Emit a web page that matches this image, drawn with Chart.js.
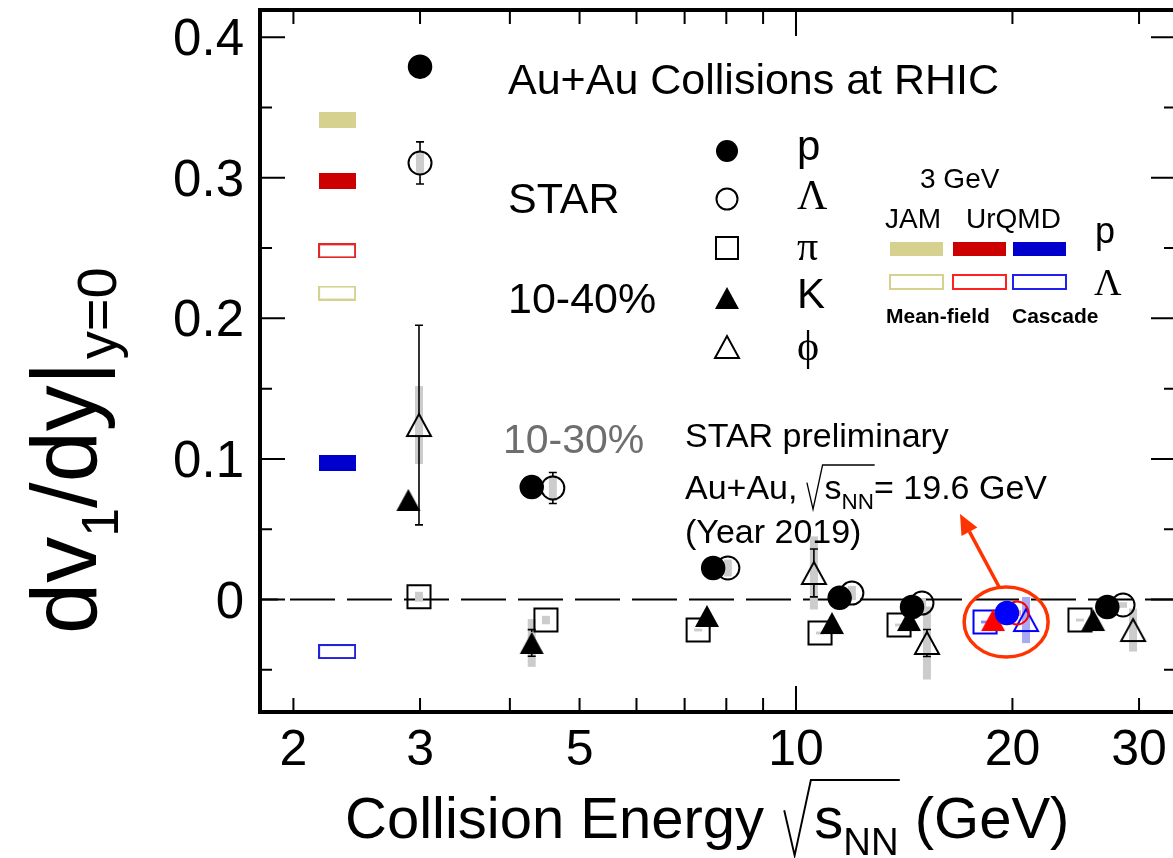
<!DOCTYPE html>
<html>
<head>
<meta charset="utf-8">
<title>dv1/dy vs collision energy</title>
<script src="https://cdn.jsdelivr.net/npm/chart.js@4.4.1/dist/chart.umd.min.js"></script>
<style>
  html, body { margin: 0; padding: 0; background: #fff; overflow: hidden; }
  #box { width: 1173px; height: 858px; overflow: hidden; }
  canvas { display: block; }
</style>
</head>
<body>
<div id="box"><canvas id="my-chart" width="1180" height="858"></canvas></div>
<script>
// STAR dv1/dy at mid-rapidity vs beam energy, Au+Au
// points of one energy are staggered a little in x so they don't sit on top of each other

const protonE    = [3.0, 4.29, 7.67, 11.5, 14.5, 19.65, 27.1];
const protonV1   = [0.379, 0.080, 0.0224, 0.0012, -0.0053, -0.0096, -0.0053];
const protonStat = [0, 0, 0, 0, 0, 0, 0];
const protonSys  = [0, 0, 0, 0, 0, 0, 0];

const lambdaE    = [3.0, 4.59, 8.04, 11.96, 14.97, 20.3, 28.5];
const lambdaV1   = [0.3105, 0.0793, 0.0224, 0.0046, -0.0025, -0.0096, -0.0039];
const lambdaStat = [0.015, 0.011, 0, 0, 0, 0, 0];
const lambdaSys  = [0.008, 0.009, 0.006, 0.005, 0.0035, 0.002, 0.002];

const pionE    = [2.99, 4.49, 7.31, 10.8, 13.91, 18.32, 24.83];
const pionV1   = [0.002, -0.0146, -0.0217, -0.0238, -0.0181, -0.016, -0.0146];
const pionStat = [0, 0, 0, 0, 0, 0, 0];
const pionSys  = [0.0035, 0.003, 0.001, 0.001, 0.001, 0.001, 0.001];

const kaonE    = [2.89, 4.29, 7.52, 11.22, 14.36, 18.8, 25.9];
const kaonV1   = [0.0708, -0.0309, -0.0117, -0.0167, -0.0146, -0.0146, -0.0146];
const kaonStat = [0, 0.0095, 0, 0, 0, 0, 0];
const kaonSys  = [0, 0.017, 0, 0, 0, 0, 0];

const phiE    = [2.99, 10.59, 15.21, 20.89, 29.43];
const phiV1   = [0.1241, 0.0189, -0.0309, -0.0146, -0.0217];
const phiStat = [0.071, 0.017, 0.0096, 0, 0.004];
const phiSys  = [0.0277, 0.026, 0.026, 0.0164, 0.0153];

// 3 GeV model values, drawn as bars left of the data
const modelE  = 2.3;
const modelNames = ['JAM p', 'UrQMD mean-field p', 'UrQMD mean-field Λ', 'JAM Λ', 'UrQMD cascade p', 'UrQMD cascade Λ'];
const modelV1 = [0.341, 0.298, 0.248, 0.218, 0.097, -0.037];

const xTicks  = [2, 3, 4, 5, 6, 7, 8, 9, 10, 20, 30];
const xLabels = [2, 3, 5, 10, 20, 30];
const yTicks  = [-0.05, 0, 0.05, 0.1, 0.15, 0.2, 0.25, 0.3, 0.35, 0.4];
const yLabels = [0, 0.1, 0.2, 0.3, 0.4];

const SANS = '"Liberation Sans", Arial, Helvetica, sans-serif';
const SERIF = '"Liberation Serif", "Times New Roman", serif';
const TAN = '#d6d18e', RED = '#cc0000', BLUE = '#0000cc';
const HL_BLUE = '#0000ff', HL_RED = '#ff0000', ORANGE = '#ff3300';
const SYS_GREY = '#cccccc';

function triangleImage(w, h, color, filled) {
  const c = document.createElement('canvas');
  c.width = w + 8; c.height = h + 8;
  const g = c.getContext('2d');
  g.beginPath();
  g.moveTo(4, h + 4); g.lineTo(w + 4, h + 4); g.lineTo(w / 2 + 4, 4); g.closePath();
  if (filled) { g.fillStyle = color; g.fill(); }
  else { g.lineWidth = 2; g.strokeStyle = color; g.stroke(); }
  return c;
}

function boxImage(w, h, color, filled) {
  const c = document.createElement('canvas');
  c.width = w; c.height = h;
  const g = c.getContext('2d');
  if (filled) { g.fillStyle = color; g.fillRect(0, 0, w, h); }
  else { g.strokeStyle = color; g.lineWidth = 2; g.strokeRect(1, 1, w - 2, h - 2); }
  return c;
}

const triBlackFill = triangleImage(24, 22, '#000', true);
const triRedFill   = triangleImage(24, 22, HL_RED, true);
const triBlackOpen = triangleImage(24, 22, '#000', false);
const triBlueOpen  = triangleImage(24, 22, HL_BLUE, false);

const modelBoxes = [
  boxImage(37, 16, TAN, true), boxImage(37, 16, RED, true), boxImage(38, 15, '#e02828', false),
  boxImage(38, 15, TAN, false), boxImage(37, 16, BLUE, true), boxImage(38, 15, '#2222dd', false)
];

// the 2019 19.6 GeV point is coloured in every species
const hl = { p: 5, lambda: 5, pi: 5, k: 5, phi: 3 };
const pick = (n, idx, a, b) => Array.from({ length: n }, (_, i) => i === idx ? a : b);
const xy = (e, v) => e.map((x, i) => ({ x, y: v[i] }));

const series = [
  { e: protonE, v: protonV1, stat: protonStat, sys: protonSys, hl: hl.p, color: HL_BLUE, band: '#9999ff', gap: 12 },
  { e: lambdaE, v: lambdaV1, stat: lambdaStat, sys: lambdaSys, hl: hl.lambda, color: HL_RED, band: '#f0a0a0', gap: 12 },
  { e: pionE, v: pionV1, stat: pionStat, sys: pionSys, hl: hl.pi, color: HL_BLUE, band: '#8888ff', gap: 12 },
  { e: kaonE, v: kaonV1, stat: kaonStat, sys: kaonSys, hl: hl.k, color: HL_RED, band: '#f0a0a0', gap: 11 },
  { e: phiE, v: phiV1, stat: phiStat, sys: phiSys, hl: hl.phi, color: HL_BLUE, band: '#aaaaf4', gap: 11 }
];

function txt(ctx, s, x, yb, size, o = {}) {
  ctx.font = (o.bold ? 'bold ' : '') + size + 'px ' + (o.serif ? SERIF : SANS);
  ctx.fillStyle = o.color || '#000';
  ctx.textAlign = o.align || 'left';
  ctx.textBaseline = 'alphabetic';
  ctx.fillText(s, x, yb);
  return x + ctx.measureText(s).width;
}

// radical over s with NN subscript, returns the x where it ends
function rootS(ctx, x, yb, size) {
  const xs = x + size * 0.52;
  let end = txt(ctx, 's', xs, yb, size);
  end = txt(ctx, 'NN', end, yb + size * 0.3, size * 0.66);
  ctx.save();
  ctx.strokeStyle = '#000';
  ctx.lineWidth = Math.max(1.3, size / 30);
  ctx.beginPath();
  ctx.moveTo(x, yb - size * 0.48);
  ctx.lineTo(x + size * 0.18, yb + size * 0.3);
  ctx.lineTo(x + size * 0.46, yb - size * 1.0);
  ctx.lineTo(end + size * 0.02, yb - size * 1.0);
  ctx.stroke();
  ctx.restore();
  return end;
}

function marker(ctx, kind, x, y) {
  ctx.save();
  ctx.strokeStyle = '#000'; ctx.fillStyle = '#000'; ctx.lineWidth = 2;
  if (kind === 'circleFill') { ctx.beginPath(); ctx.arc(x, y, 11, 0, Math.PI * 2); ctx.fill(); }
  if (kind === 'circleOpen') { ctx.beginPath(); ctx.arc(x, y, 10.5, 0, Math.PI * 2); ctx.stroke(); }
  if (kind === 'square') ctx.strokeRect(x - 11, y - 11, 22, 22);
  if (kind === 'triFill') ctx.drawImage(triBlackFill, x - triBlackFill.width / 2, y - triBlackFill.height / 2);
  if (kind === 'triOpen') ctx.drawImage(triBlackOpen, x - triBlackOpen.width / 2, y - triBlackOpen.height / 2);
  ctx.restore();
}

const decor = {
  id: 'decor',
  beforeDatasetsDraw(chart) {
    const { ctx, chartArea: a, scales: { x, y } } = chart;
    ctx.save();
    ctx.beginPath(); ctx.rect(a.left, a.top, a.right - a.left, a.bottom - a.top); ctx.clip();

    // dashed zero line
    const y0 = y.getPixelForValue(0);
    ctx.setLineDash([45, 12]);
    ctx.lineDashOffset = 27;
    ctx.lineWidth = 2; ctx.strokeStyle = '#000';
    ctx.beginPath(); ctx.moveTo(a.left, y0); ctx.lineTo(a.right, y0); ctx.stroke();
    ctx.setLineDash([]);

    // systematic boxes, then statistical bars outside the marker
    series.forEach(s => {
      s.e.forEach((e, i) => {
        const px = x.getPixelForValue(e);
        const py = y.getPixelForValue(s.v[i]);
        if (s.sys[i] > 0) {
          const t = y.getPixelForValue(s.v[i] + s.sys[i]);
          const b = y.getPixelForValue(s.v[i] - s.sys[i]);
          ctx.fillStyle = i === s.hl ? s.band : SYS_GREY;
          ctx.fillRect(px - 4, t, 8, b - t);
        }
        if (s.stat[i] > 0) {
          const t = y.getPixelForValue(s.v[i] + s.stat[i]);
          const b = y.getPixelForValue(s.v[i] - s.stat[i]);
          ctx.strokeStyle = i === s.hl ? s.color : '#000';
          ctx.lineWidth = 1.6;
          ctx.beginPath();
          if (t < py - s.gap) { ctx.moveTo(px, py - s.gap); ctx.lineTo(px, t); ctx.moveTo(px - 4, t); ctx.lineTo(px + 4, t); }
          if (b > py + s.gap) { ctx.moveTo(px, py + s.gap); ctx.lineTo(px, b); ctx.moveTo(px - 4, b); ctx.lineTo(px + 4, b); }
          ctx.stroke();
        }
      });
    });
    ctx.restore();
  },
  afterDraw(chart) {
    const { ctx, chartArea: a, scales: { x, y } } = chart;
    ctx.save();

    // frame and inward ticks on all four sides
    ctx.strokeStyle = '#000';
    ctx.lineWidth = 4;
    ctx.strokeRect(a.left, a.top, a.right - a.left, a.bottom - a.top);
    ctx.lineWidth = 2;
    ctx.beginPath();
    yTicks.forEach(v => {
      const py = y.getPixelForValue(v);
      const major = yLabels.some(l => Math.abs(l - v) < 1e-9);
      ctx.moveTo(a.left, py); ctx.lineTo(a.left + (major ? 25 : 12), py);
      ctx.moveTo(a.right, py); ctx.lineTo(a.right - (major ? 24 : 11), py);
    });
    xTicks.forEach(v => {
      const px = x.getPixelForValue(v);
      const len = v === 10 ? 26 : 14;
      ctx.moveTo(px, a.bottom); ctx.lineTo(px, a.bottom - len);
      ctx.moveTo(px, a.top); ctx.lineTo(px, a.top + len);
    });
    ctx.stroke();

    // tick labels
    yLabels.forEach(v => txt(ctx, String(v), a.left - 16, y.getPixelForValue(v) + 18, 51, { align: 'right' }));
    xLabels.forEach(v => txt(ctx, String(v), x.getPixelForValue(v), a.bottom + 53, 50, { align: 'center' }));

    // x title
    let p = txt(ctx, 'Collision Energy ', 345, 838, 58);
    p = rootS(ctx, p + 4, 838, 58);
    txt(ctx, ' (GeV)', p, 838, 58);

    // y title, rotated
    ctx.save();
    ctx.translate(96, 634);
    ctx.rotate(-Math.PI / 2);
    let q = txt(ctx, 'dv', 0, 0, 92);
    q = txt(ctx, '1', q, 22, 52);
    q = txt(ctx, '/dy|', q, 0, 92);
    txt(ctx, 'y=0', q + 2, 20, 56);
    ctx.restore();

    // labels inside the frame
    txt(ctx, 'Au+Au Collisions at RHIC', 508, 94, 43);
    txt(ctx, 'STAR', 508, 213, 43);
    txt(ctx, '10-40%', 508, 313, 43);
    txt(ctx, '10-30%', 503, 453, 41, { color: '#6e6e6e' });
    txt(ctx, 'STAR preliminary', 685, 447, 34);
    p = txt(ctx, 'Au+Au, ', 685, 499, 34);
    p = rootS(ctx, p, 499, 34);
    txt(ctx, '= 19.6 GeV', p, 499, 34);
    txt(ctx, '(Year 2019)', 685, 543, 34);

    // species legend
    const kinds = ['circleFill', 'circleOpen', 'square', 'triFill', 'triOpen'];
    const names = ['p', 'Λ', 'π', 'K', 'ϕ'];
    const serif = [false, true, true, false, true];
    const rowY = [151, 199, 248, 298, 347];
    const lift = [9, 10, 12, 10, 13];
    kinds.forEach((k, i) => {
      marker(ctx, k, 727, rowY[i]);
      txt(ctx, names[i], 797, rowY[i] + lift[i], 42, { serif: serif[i] });
    });

    // model legend
    txt(ctx, '3 GeV', 920, 188, 28);
    txt(ctx, 'JAM', 885, 228, 28);
    txt(ctx, 'UrQMD', 966, 228, 28);
    [[890, TAN], [953, RED], [1013, BLUE]].forEach(([bx, c]) => {
      ctx.fillStyle = c; ctx.fillRect(bx, 242, 53, 14);
    });
    ctx.lineWidth = 2;
    [[890, TAN], [953, '#ff2020'], [1013, '#2020ee']].forEach(([bx, c]) => {
      ctx.strokeStyle = c; ctx.strokeRect(bx, 275, 53, 14);
    });
    txt(ctx, 'p', 1095, 243, 36);
    txt(ctx, 'Λ', 1094, 295, 38, { serif: true });
    txt(ctx, 'Mean-field', 886, 323, 21, { bold: true });
    txt(ctx, 'Cascade', 1012, 323, 21, { bold: true });

    // ring around the 19.6 GeV points and arrow to the label
    const cx = x.getPixelForValue(19.6), cy = y.getPixelForValue(-0.016);
    ctx.strokeStyle = ORANGE; ctx.fillStyle = ORANGE; ctx.lineWidth = 3.5;
    ctx.beginPath(); ctx.ellipse(cx, cy, 42, 35, 0, 0, Math.PI * 2); ctx.stroke();
    const sx = cx - 7, sy = cy - 35, tx = 960, ty = 514;
    const ang = Math.atan2(ty - sy, tx - sx);
    const hx = tx - 20 * Math.cos(ang), hy = ty - 20 * Math.sin(ang);
    ctx.beginPath(); ctx.moveTo(sx, sy); ctx.lineTo(hx, hy); ctx.stroke();
    ctx.beginPath();
    ctx.moveTo(tx, ty);
    ctx.lineTo(hx + 9 * Math.sin(ang), hy - 9 * Math.cos(ang));
    ctx.lineTo(hx - 9 * Math.sin(ang), hy + 9 * Math.cos(ang));
    ctx.closePath(); ctx.fill();

    ctx.restore();
  }
};

const ctx = document.getElementById('my-chart').getContext('2d');
const chart = new Chart(ctx, {
  type: 'scatter',
  data: {
    datasets: [
      {
        label: 'p', data: xy(protonE, protonV1), pointStyle: 'circle', pointRadius: 11.5, pointBorderWidth: 1.5,
        pointBackgroundColor: pick(7, hl.p, HL_BLUE, '#000'), pointBorderColor: pick(7, hl.p, HL_BLUE, '#000')
      },
      {
        label: 'K', data: xy(kaonE, kaonV1), pointStyle: pick(7, hl.k, triRedFill, triBlackFill), pointRadius: 12
      },
      {
        label: 'Λ', data: xy(lambdaE, lambdaV1), pointStyle: 'circle', pointRadius: 11.5, pointBorderWidth: 2,
        pointBackgroundColor: 'rgba(0,0,0,0)', pointBorderColor: pick(7, hl.lambda, HL_RED, '#000')
      },
      {
        label: 'π', data: xy(pionE, pionV1), pointStyle: 'rect', pointRadius: 16.3, pointBorderWidth: 2,
        pointBackgroundColor: 'rgba(0,0,0,0)', pointBorderColor: pick(7, hl.pi, HL_BLUE, '#000')
      },
      {
        label: 'φ', data: xy(phiE, phiV1), pointStyle: pick(5, hl.phi, triBlueOpen, triBlackOpen), pointRadius: 12
      },
      {
        label: 'models', data: modelV1.map(v => ({ x: modelE, y: v })), pointStyle: modelBoxes, pointRadius: 10
      }
    ]
  },
  options: {
    responsive: false,
    animation: false,
    events: [],
    layout: { autoPadding: false, padding: { top: 10, right: 5, left: 0, bottom: 0 } },
    plugins: { legend: { display: false }, tooltip: { enabled: false } },
    scales: {
      x: {
        type: 'logarithmic', min: 1.797, max: 33.66,
        afterBuildTicks: s => { s.ticks = xTicks.map(v => ({ value: v })); },
        afterFit: s => { s.height = 146; },
        ticks: { display: false }, grid: { display: false }, border: { display: false }
      },
      y: {
        type: 'linear', min: -0.0800, max: 0.4193,
        afterBuildTicks: s => { s.ticks = yTicks.map(v => ({ value: v })); },
        afterFit: s => { s.width = 260; },
        ticks: { display: false }, grid: { display: false }, border: { display: false }
      }
    }
  },
  plugins: [decor]
});
</script>
</body>
</html>
